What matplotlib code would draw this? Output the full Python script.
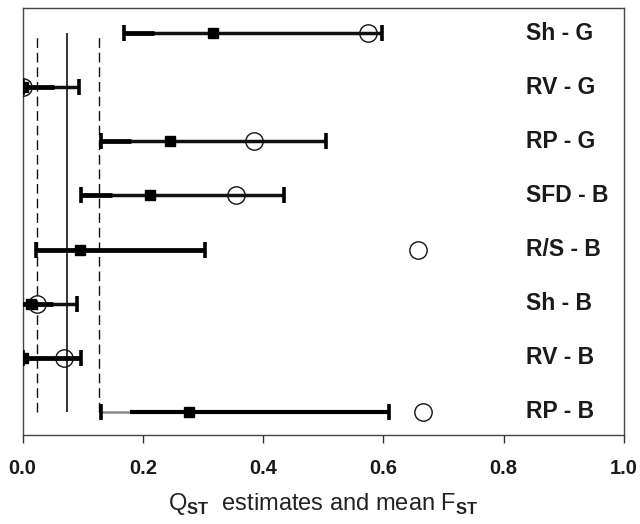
import matplotlib
matplotlib.use("Agg")
import matplotlib.pyplot as plt

plt.rcParams['font.family'] = ['Liberation Sans', 'DejaVu Sans']
plt.rcParams['mathtext.fontset'] = 'custom'
plt.rcParams['mathtext.rm'] = 'Liberation Sans'
plt.rcParams['mathtext.bf'] = 'Liberation Sans:bold'

# rows from top to bottom
labels = ['Sh - G', 'RV - G', 'RP - G', 'SFD - B', 'R/S - B', 'Sh - B', 'RV - B', 'RP - B']
q_est = [0.317, 0.0, 0.246, 0.2125, 0.096, 0.014, 0.0, 0.277]
q_lo = [0.169, 0.0, 0.130, 0.098, 0.022, -0.003, 0.0, 0.130]
q_hi = [0.597, 0.094, 0.505, 0.435, 0.304, 0.090, 0.097, 0.609]
q_bold_to = [0.219, 0.052, 0.180, 0.148, 0.304, 0.050, 0.097, 0.130]
fst = [0.575, 0.0, 0.385, 0.355, 0.657, 0.0236, 0.0695, 0.666]

# mean Fst and its interval (vertical lines)
fst_mean = 0.074
fst_ci = [0.0236, 0.127]

xticks = [0.0, 0.2, 0.4, 0.6, 0.8, 1.0]

fig = plt.figure(figsize=(6.4, 5.24), dpi=100)
ax = fig.add_axes([0.0352, 0.170, 0.9398, 0.8145])

ypos = list(range(len(labels), 0, -1))
ink = '#111111'

ax.vlines(fst_mean, 1, 8, color=ink, lw=1.2, zorder=1)
ax.vlines(fst_ci, 1, 8, color=ink, lw=1.0, linestyles=(0, (7, 3.5)), zorder=1)

for y, lbl, lo, hi, bt, q, f in zip(ypos, labels, q_lo, q_hi, q_bold_to, q_est, fst):
    if bt > lo:
        ax.plot([lo, hi], [y, y], color=ink, lw=2.5, solid_capstyle='butt', zorder=2)
        ax.plot([lo, bt], [y, y], color='black', lw=3.4, solid_capstyle='butt', zorder=3)
    else:
        ax.plot([lo, 0.179], [y, y], color='#888888', lw=1.8, solid_capstyle='butt', zorder=3)
        ax.plot([0.179, hi], [y, y], color='black', lw=3.0, solid_capstyle='butt', zorder=3)
    ax.plot([lo, hi], [y, y], ls='none', marker='|', ms=12, mew=2.6, color='black', zorder=4)
    ax.plot(q, y, 's', ms=6.8, color='black', zorder=5)
    ax.plot(f, y, 'o', ms=12.5, mfc='none', mec=ink, mew=1.0, zorder=6)
    ax.text(0.837, y, lbl, ha='left', va='center',
            fontsize=16.5, fontweight='bold', color='#1a1a1a')

ax.set_xlim(0, 1.0)
ax.set_ylim(0.574, 8.463)
ax.set_xticks(xticks)
ax.set_xticklabels([f'{t:.1f}' for t in xticks], fontsize=14.5, fontweight='bold', color='#1a1a1a')
ax.set_yticks([])
ax.tick_params(axis='x', direction='out', length=6, width=1, color='#333333', pad=11)
for s in ax.spines.values():
    s.set_color('#444444')
    s.set_linewidth(1.0)

ax.set_xlabel(r'Q$_{\mathbf{ST}}$  estimates and mean F$_{\mathbf{ST}}$', fontsize=17,
              color='#222222', labelpad=10)

fig.savefig('out.png', dpi=100)
